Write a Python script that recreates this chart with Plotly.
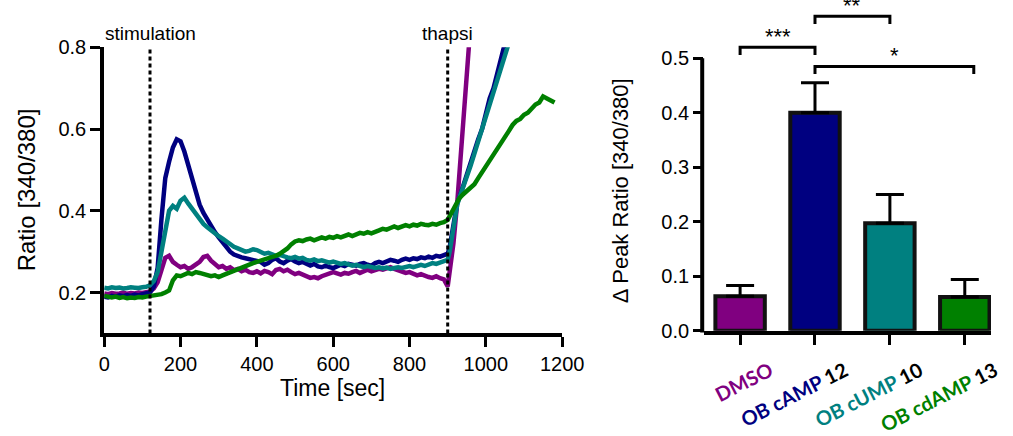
import plotly.graph_objects as go

# ---------------- data: left panel (Fura-2 ratio traces) ----------------
time_s = list(range(0, 901, 10))

dmso_trace = [0.198, 0.196, 0.199, 0.197, 0.198, 0.200, 0.197, 0.199, 0.198, 0.200, 0.199, 0.201, 0.203,
              0.210, 0.225, 0.255, 0.285, 0.290, 0.275, 0.268, 0.262, 0.265, 0.258, 0.262, 0.268, 0.275,
              0.287, 0.290, 0.278, 0.270, 0.262, 0.265, 0.258, 0.262, 0.255, 0.258, 0.252, 0.256, 0.250,
              0.248, 0.252, 0.247, 0.253, 0.250, 0.245, 0.255, 0.258, 0.252, 0.256, 0.250, 0.245, 0.248,
              0.243, 0.240, 0.236, 0.238, 0.235, 0.240, 0.244, 0.246, 0.250, 0.247, 0.244, 0.248, 0.246,
              0.250, 0.253, 0.248, 0.252, 0.256, 0.252, 0.255, 0.258, 0.256, 0.260, 0.262, 0.258, 0.255,
              0.250, 0.248, 0.250, 0.246, 0.242, 0.245, 0.240, 0.238, 0.236, 0.240, 0.235, 0.232, 0.215]
dmso_post_t = [905, 915, 925, 935, 945, 955, 965]
dmso_post = [0.25, 0.32, 0.42, 0.54, 0.67, 0.80, 0.92]

camp_trace = [0.190, 0.188, 0.192, 0.190, 0.193, 0.191, 0.194, 0.192, 0.195, 0.193, 0.196, 0.197, 0.200,
              0.215, 0.260, 0.380, 0.480, 0.520, 0.555, 0.575, 0.570, 0.545, 0.510, 0.475, 0.445, 0.415,
              0.395, 0.378, 0.362, 0.348, 0.335, 0.322, 0.310, 0.300, 0.293, 0.288, 0.286, 0.284, 0.282,
              0.280, 0.278, 0.275, 0.268, 0.272, 0.280, 0.284, 0.276, 0.272, 0.278, 0.282, 0.276, 0.272,
              0.275, 0.270, 0.266, 0.270, 0.264, 0.262, 0.266, 0.262, 0.260, 0.264, 0.268, 0.265, 0.270,
              0.268, 0.266, 0.270, 0.272, 0.268, 0.266, 0.272, 0.275, 0.272, 0.276, 0.280, 0.278, 0.275,
              0.280, 0.283, 0.280, 0.284, 0.282, 0.286, 0.284, 0.288, 0.285, 0.290, 0.288, 0.292, 0.295]
camp_post_t = [905, 910, 915, 920, 925, 930, 940, 950, 960, 970, 980, 990, 1000, 1010, 1020, 1030, 1040, 1050, 1060]
camp_post = [0.31, 0.34, 0.37, 0.40, 0.42, 0.43, 0.46, 0.49, 0.52, 0.545, 0.575, 0.60, 0.64, 0.675, 0.70,
             0.74, 0.77, 0.81, 0.84]

cump_trace = [0.212, 0.210, 0.213, 0.211, 0.212, 0.210, 0.211, 0.213, 0.212, 0.211, 0.213, 0.214, 0.218,
              0.228, 0.250, 0.300, 0.360, 0.400, 0.412, 0.405, 0.425, 0.432, 0.418, 0.405, 0.392, 0.380,
              0.368, 0.360, 0.352, 0.345, 0.338, 0.332, 0.325, 0.318, 0.312, 0.308, 0.303, 0.300, 0.302,
              0.306, 0.304, 0.298, 0.295, 0.297, 0.293, 0.290, 0.292, 0.288, 0.286, 0.284, 0.287, 0.283,
              0.285, 0.280, 0.278, 0.281, 0.277, 0.279, 0.275, 0.273, 0.276, 0.272, 0.270, 0.272, 0.268,
              0.266, 0.268, 0.264, 0.262, 0.265, 0.262, 0.260, 0.262, 0.259, 0.261, 0.258, 0.260, 0.262,
              0.260, 0.263, 0.265, 0.262, 0.266, 0.268, 0.265, 0.270, 0.272, 0.270, 0.274, 0.276, 0.280]
cump_post_t = [905, 910, 915, 920, 925, 930, 940, 950, 960, 970, 980, 990, 1000, 1010, 1020, 1030, 1040, 1050, 1060]
cump_post = [0.30, 0.33, 0.36, 0.39, 0.415, 0.43, 0.455, 0.48, 0.51, 0.54, 0.57, 0.60, 0.63, 0.66, 0.69,
             0.72, 0.75, 0.785, 0.81]

cdamp_trace = [0.192, 0.190, 0.188, 0.190, 0.187, 0.189, 0.186, 0.188, 0.187, 0.189, 0.188, 0.190, 0.191,
               0.193, 0.195, 0.196, 0.200, 0.205, 0.230, 0.242, 0.240, 0.244, 0.248, 0.245, 0.250, 0.248,
               0.246, 0.243, 0.240, 0.242, 0.238, 0.242, 0.246, 0.250, 0.255, 0.258, 0.262, 0.266, 0.270,
               0.272, 0.275, 0.278, 0.280, 0.283, 0.285, 0.290, 0.295, 0.300, 0.308, 0.318, 0.325, 0.328,
               0.326, 0.330, 0.332, 0.328, 0.333, 0.335, 0.332, 0.336, 0.334, 0.338, 0.335, 0.340, 0.342,
               0.338, 0.343, 0.346, 0.344, 0.348, 0.345, 0.350, 0.352, 0.356, 0.354, 0.358, 0.362, 0.358,
               0.362, 0.365, 0.362, 0.366, 0.364, 0.368, 0.366, 0.365, 0.368, 0.366, 0.370, 0.372, 0.378]
cdamp_post_t = [910, 920, 930, 940, 950, 960, 970, 980, 990, 1000, 1010, 1020, 1030, 1040, 1050, 1060,
                1070, 1080, 1090, 1100, 1110, 1120, 1130, 1140, 1150, 1160, 1170, 1180]
cdamp_post = [0.395, 0.415, 0.43, 0.44, 0.448, 0.455, 0.465, 0.48, 0.495, 0.51, 0.525, 0.54, 0.555, 0.57,
              0.585, 0.595, 0.61, 0.62, 0.625, 0.635, 0.64, 0.65, 0.66, 0.665, 0.68, 0.675, 0.67, 0.665]

event_times = [120, 900]
event_labels = ["stimulation", "thapsi"]
x_ticks = [0, 200, 400, 600, 800, 1000, 1200]
y_ticks_left = [0.2, 0.4, 0.6, 0.8]

# ---------------- data: right panel (bar chart) ----------------
groups = ["DMSO", "OB cAMP", "OB cUMP", "OB cdAMP"]
group_n = ["", "12", "10", "13"]
peak_mean = [0.063, 0.400, 0.197, 0.062]
peak_sem = [0.020, 0.055, 0.053, 0.032]
y_ticks_right = [0.0, 0.1, 0.2, 0.3, 0.4, 0.5]
# significance comparisons: (from group, to group, label, bracket level)
sig_pairs = [(0, 1, "***", 0.520), (1, 2, "**", 0.577), (1, 3.12, "*", 0.485)]

colors = ["#800080", "#000080", "#008080", "#008000"]

# ---------------- layout helpers ----------------
W, H = 1013, 436
def px(x):
    return x / W
def py(y):
    return 1 - y / H

FONT = "Liberation Sans, Arial, sans-serif"
fig = go.Figure()

series = [
    (dmso_trace, dmso_post_t, dmso_post, colors[0]),
    (camp_trace, camp_post_t, camp_post, colors[1]),
    (cump_trace, cump_post_t, cump_post, colors[2]),
    (cdamp_trace, cdamp_post_t, cdamp_post, colors[3]),
]
for vals, pt, pv, col in series:
    fig.add_trace(go.Scatter(x=time_s + pt, y=vals + pv, mode="lines",
                             line=dict(color=col, width=4.5),
                             xaxis="x", yaxis="y", showlegend=False, hoverinfo="skip"))

# dotted event lines
for t in event_times:
    fig.add_trace(go.Scatter(x=[t, t], y=[0.1, 0.8], mode="lines",
                             line=dict(color="black", width=3, dash="4px,3px"),
                             xaxis="x", yaxis="y", showlegend=False, hoverinfo="skip"))

# left-panel axis mapping (data -> paper) for labels placed above the plot area
L_X0, L_X1, L_Y0, L_Y1 = 101, 572, 355, 40
def lx(t):
    return px(L_X0 + (L_X1 - L_X0) * t / 1200)
for t, lab in zip(event_times, event_labels):
    fig.add_annotation(x=lx(t), y=py(25), xref="paper", yref="paper", text=lab, showarrow=False,
                       font=dict(family=FONT, size=19, color="black"),
                       xanchor="center", yanchor="middle")

# bars
fig.add_trace(go.Bar(x=list(range(len(groups))), y=peak_mean, width=0.66,
                     marker=dict(color=colors, line=dict(color="#111111", width=4)),
                     error_y=dict(type="data", array=peak_sem, arrayminus=[0] * len(groups),
                                  symmetric=False, color="black", thickness=3, width=14),
                     xaxis="x2", yaxis="y2", showlegend=False, hoverinfo="skip"))

# right-panel axis mapping
R_X0, R_X1, R_Y0 = 718, 1013, 352
XR = (-0.48, 3.35)
ymax_r = R_Y0 / 600
def rx(c):
    return px(R_X0 + (R_X1 - R_X0) * (c - XR[0]) / (XR[1] - XR[0]))
def ry(v):
    d0, d1 = py(R_Y0), 1.0
    return d0 + (d1 - d0) * v / ymax_r

# significance brackets
for a, b, lab, lev in sig_pairs:
    drop = 0.014
    fig.add_shape(type="path", xref="x2", yref="y2",
                  path=f"M {a} {lev - drop} L {a} {lev} L {b} {lev} L {b} {lev - drop}",
                  line=dict(color="black", width=3))
    fig.add_annotation(x=rx((a + b) / 2), y=ry(lev) + 12 / H, xref="paper", yref="paper", text=lab,
                       showarrow=False, font=dict(family=FONT, size=22, color="black"),
                       xanchor="center", yanchor="middle")

# right y axis line spanning 0..0.5 only
fig.add_shape(type="line", xref="paper", yref="paper", x0=px(716), x1=px(716),
              y0=ry(0) - 2 / H, y1=ry(0.5), line=dict(color="black", width=4))

ticktext = []
for g, n, c in zip(groups, group_n, colors):
    t = f"<b><span style='color:{c}'>{g}</span>"
    if n:
        t += f" <span style='color:black'>{n}</span>"
    t += "</b>"
    ticktext.append(t)

fig.update_layout(
    width=W, height=H,
    margin=dict(l=0, r=0, t=0, b=0),
    paper_bgcolor="white", plot_bgcolor="white",
    font=dict(family=FONT, size=20, color="black"),
    xaxis=dict(domain=[px(L_X0), px(L_X1)], range=[0, 1200], tickvals=x_ticks,
               showline=True, linecolor="black", linewidth=4, ticks="outside",
               ticklen=10, tickwidth=3, tickcolor="black", showgrid=False, zeroline=False,
               tickfont=dict(size=20)),
    yaxis=dict(domain=[py(L_Y0), py(L_Y1)], range=[0.1, 0.8], tickvals=y_ticks_left,
               tickformat=".1f", showline=True, linecolor="black", linewidth=4,
               ticks="outside", ticklen=10, tickwidth=3, tickcolor="black",
               showgrid=False, zeroline=False, tickfont=dict(size=20)),
    xaxis2=dict(domain=[px(R_X0), 1.0], range=list(XR), tickvals=list(range(len(groups))),
                ticktext=ticktext, tickangle=-27, ticklabelshift=30, ticklabelstandoff=7,
                showline=True, linecolor="black", linewidth=4, ticks="outside",
                ticklen=10, tickwidth=3, tickcolor="black", showgrid=False, zeroline=False,
                tickfont=dict(family="Lato, Open Sans, sans-serif", size=20), anchor="y2"),
    yaxis2=dict(domain=[py(R_Y0), 1.0], range=[0, ymax_r], tickvals=y_ticks_right,
                tickformat=".1f", showline=False, ticks="outside", ticklen=10, tickwidth=3,
                tickcolor="black", showgrid=False, zeroline=False, tickfont=dict(size=20),
                anchor="x2"),
)

# axis titles
fig.add_annotation(x=px(336), y=py(415), xref="paper", yref="paper", text="Time [sec]",
                   showarrow=False, font=dict(family=FONT, size=23), xanchor="center", yanchor="middle")
fig.add_annotation(x=px(22), y=py(197), xref="paper", yref="paper", text="Ratio [340/380]",
                   textangle=-90, showarrow=False, font=dict(family=FONT, size=24),
                   xanchor="center", yanchor="middle")
fig.add_annotation(x=px(632), y=py(198), xref="paper", yref="paper", text="\u0394 Peak Ratio [340/380]",
                   textangle=-90, showarrow=False, font=dict(family=FONT, size=22),
                   xanchor="center", yanchor="middle")

fig.write_html("out.html", config={"displayModeBar": False},
               post_script="document.body.style.margin='0px';")
